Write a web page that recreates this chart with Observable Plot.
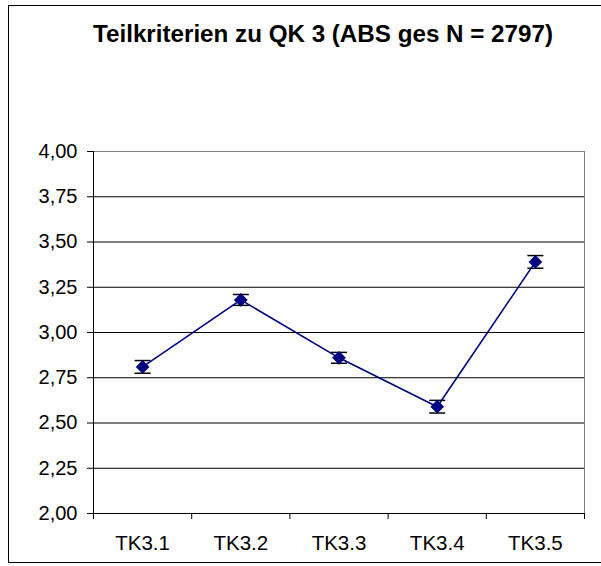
<!DOCTYPE html>
<html><head><meta charset="utf-8">
<script src="https://cdn.jsdelivr.net/npm/d3@7"></script>
<script src="https://cdn.jsdelivr.net/npm/@observablehq/plot@0.6"></script>
<style>
body{margin:0;background:#fff;}
#wrap{position:relative;width:601px;height:566px;overflow:hidden;font-family:Arial,"Liberation Sans",sans-serif;background:#fff;}
#chart{position:absolute;left:0;top:0;}
#frame{position:absolute;left:8px;top:5px;width:620px;height:558px;border:1.5px solid #000;box-sizing:border-box;pointer-events:none;}
#title{position:absolute;left:0;width:646px;top:22px;text-align:center;font-size:24.2px;line-height:24px;font-weight:bold;white-space:nowrap;color:#000;}
</style>
</head><body>
<div id="wrap"><div id="chart"></div><div id="frame"></div><div id="title">Teilkriterien zu QK 3 (ABS ges N = 2797)</div></div>
<script>
const categories = ["TK3.1", "TK3.2", "TK3.3", "TK3.4", "TK3.5"];
const means = [2.81, 3.18, 2.86, 2.59, 3.39];
const errors = [0.035, 0.03, 0.03, 0.035, 0.035];
const yTicks = [2.00, 2.25, 2.50, 2.75, 3.00, 3.25, 3.50, 3.75, 4.00];

const data = categories.map((c, i) => ({cat: c, pos: i + 0.5, mean: means[i], lo: means[i] - errors[i], hi: means[i] + errors[i]}));
const caps = data.flatMap(d => [{pos: d.pos, v: d.lo}, {pos: d.pos, v: d.hi}]);
const capSymbol = {draw(ctx) { ctx.moveTo(-8, 0); ctx.lineTo(8, 0); }};

const plot = Plot.plot({
  width: 601,
  height: 566,
  marginLeft: 93,
  marginRight: 17,
  marginTop: 151,
  marginBottom: 53,
  style: {background: "transparent", fontFamily: "Arial, 'Liberation Sans', sans-serif", color: "#000"},
  x: {type: "linear", domain: [0, categories.length]},
  y: {domain: [2, 4]},
  marks: [
    Plot.ruleY(yTicks.filter(v => v > 2 && v < 4), {stroke: "#000", strokeWidth: 1}),
    Plot.ruleY([4], {stroke: "#808080", strokeWidth: 1}),
    Plot.ruleX([categories.length], {stroke: "#808080", strokeWidth: 1}),
    Plot.axisY({ticks: yTicks, tickFormat: d => d.toFixed(2).replace(".", ","), tickSize: 6, tickPadding: 10, fontSize: 20, label: null, stroke: "#000"}),
    Plot.axisX({ticks: d3.range(categories.length + 1), tickFormat: () => "", tickSize: 6, label: null}),
    Plot.axisX({ticks: data.map(d => d.pos), tickFormat: (v, i) => categories[i], tickSize: 0, tickPadding: 22, fontSize: 20.5, label: null}),
    Plot.ruleX([0], {stroke: "#000", strokeWidth: 1}),
    Plot.ruleY([2], {stroke: "#000", strokeWidth: 1}),
    Plot.ruleX(data, {x: "pos", y1: "lo", y2: "hi", stroke: "#000", strokeWidth: 1.2}),
    Plot.dot(caps, {x: "pos", y: "v", symbol: capSymbol, fill: "none", stroke: "#000", strokeWidth: 1.5, r: 8}),
    Plot.line(data, {x: "pos", y: "mean", stroke: "#000080", strokeWidth: 1.6}),
    Plot.dot(data, {x: "pos", y: "mean", symbol: "diamond2", fill: "#000080", stroke: "none", r: 6.2})
  ]
});
document.getElementById("chart").appendChild(plot);
</script>
</body></html>
